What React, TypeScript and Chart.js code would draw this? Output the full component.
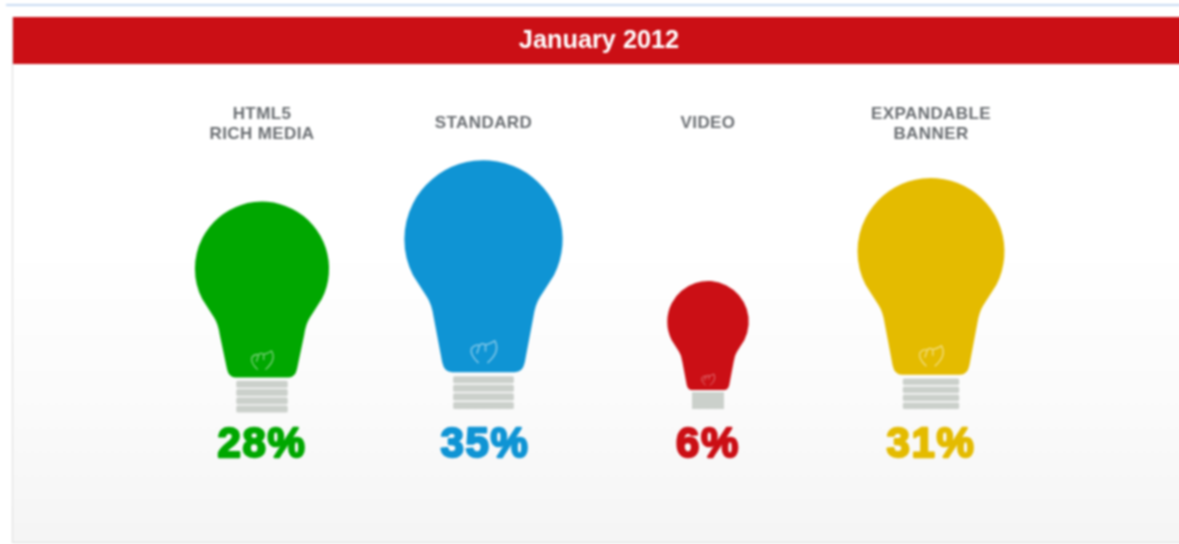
import React, { useEffect, useRef } from "react";
import { Chart, BarController, BarElement, CategoryScale, LinearScale, Title } from "chart.js";

const categories = ["HTML5 RICH MEDIA", "STANDARD", "VIDEO", "EXPANDABLE BANNER"];
const categoryLines = [["HTML5", "RICH MEDIA"], ["STANDARD"], ["VIDEO"], ["EXPANDABLE", "BANNER"]];
const shareValues = [28, 35, 6, 31];
const bulbColors = ["#00a700", "#0f94d4", "#cb0f15", "#e4bb00"];
const titleText = "January 2012";

// drawing-only adjustments of each bulb's artwork
const artScale = [0.96, 1, 1, 0.995];
const artShift = [3.5, 0, 0, 0];
const artNudge = [0.5, -1, 0.5, 0.5];
const baseTop = [0.85, 0.868, 0.868, 0.868];
const baseStripes = [4, 4, 1, 4];

class BulbElement extends BarElement {
  static id = "bulb";
  static defaults = BarElement.defaults;
  static defaultRoutes = BarElement.defaultRoutes;

  draw(ctx: CanvasRenderingContext2D) {
    const self = this as any;
    const chart = self.$context.chart;
    const i = self.$context.dataIndex;
    const bottom = chart.scales.y.bottom + artShift[i];
    const h = (chart.scales.y.bottom - self.y) * artScale[i];
    const cx = self.x + artNudge[i];
    const top = bottom - h;
    const X = (u: number) => cx + u * h;
    const Y = (v: number) => top + v * h;
    const bTop = baseTop[i];
    const gEnd = bTop - 0.016;

    ctx.save();
    // glass
    ctx.fillStyle = self.options.backgroundColor;
    ctx.beginPath();
    const r = 0.318 * h;
    const cy = Y(0.318);
    ctx.arc(cx, cy, r, (27 * Math.PI) / 180, (153 * Math.PI) / 180, true);
    ctx.lineTo(X(-0.226), Y(0.552));
    ctx.quadraticCurveTo(X(-0.208), Y(0.58), X(-0.2), Y(0.632));
    ctx.lineTo(X(-0.166), Y(gEnd - 0.04));
    ctx.quadraticCurveTo(X(-0.158), Y(gEnd), X(-0.125), Y(gEnd));
    ctx.lineTo(X(0.125), Y(gEnd));
    ctx.quadraticCurveTo(X(0.158), Y(gEnd), X(0.166), Y(gEnd - 0.04));
    ctx.lineTo(X(0.2), Y(0.632));
    ctx.quadraticCurveTo(X(0.208), Y(0.58), X(0.226), Y(0.552));
    ctx.closePath();
    ctx.fill();

    // screw base
    ctx.fillStyle = "#cbd0cb";
    const n = baseStripes[i];
    const bBot = 1;
    if (n === 1) {
      ctx.fillRect(X(-0.125), Y(bTop), 0.25 * h, (bBot - bTop) * h);
    } else {
      const gap = 0.006;
      const sh = (bBot - bTop - gap * (n - 1)) / n;
      for (let k = 0; k < n; k++) {
        const y0 = bTop + k * (sh + gap);
        ctx.beginPath();
        ctx.roundRect(X(-0.122), Y(y0), 0.244 * h, sh * h, 1.5);
        ctx.fill();
      }
    }

    // filament
    const fx = (p: number) => cx + (p / 750) * h;
    const fy = (p: number) => Y(gEnd - 0.08) + (p / 750) * h;
    ctx.strokeStyle = "rgba(255,255,255,0.5)";
    ctx.lineWidth = Math.max(0.8, h * 0.006);
    ctx.beginPath();
    ctx.moveTo(fx(-15), fy(32));
    ctx.quadraticCurveTo(fx(-42), fy(8), fx(-36), fy(-12));
    ctx.quadraticCurveTo(fx(-24), fy(-26), fx(-12), fy(-20));
    ctx.quadraticCurveTo(fx(-6), fy(-30), fx(6), fy(-22));
    ctx.quadraticCurveTo(fx(22), fy(-26), fx(34), fy(-34));
    ctx.quadraticCurveTo(fx(52), fy(-2), fx(12), fy(32));
    ctx.moveTo(fx(-12), fy(-20));
    ctx.lineTo(fx(-20), fy(4));
    ctx.moveTo(fx(6), fy(-22));
    ctx.lineTo(fx(6), fy(-2));
    ctx.stroke();
    ctx.restore();
  }
}

class BulbController extends BarController {
  static id = "bulb";
  static defaults = { ...BarController.defaults, dataElementType: "bulb" };
  static overrides = BarController.overrides;
}

Chart.register(BulbController, BulbElement, CategoryScale, LinearScale, Title);

const backdrop = {
  id: "backdrop",
  afterLayout(chart: any) {
    chart.titleBlock.left += 3;
    chart.titleBlock.right += 3;
  },
  beforeDraw(chart: any) {
    const { ctx, width, height } = chart;
    ctx.save();
    ctx.fillStyle = "#ffffff";
    ctx.fillRect(0, 0, width, height);
    // thin rule on top of the page
    ctx.fillStyle = "#c6daf2";
    ctx.fillRect(6, 4, width - 6, 2);
    // panel
    const g = ctx.createLinearGradient(0, 64, 0, 542);
    g.addColorStop(0, "#ffffff");
    g.addColorStop(0.4, "#ffffff");
    g.addColorStop(0.7, "#fbfbfb");
    g.addColorStop(1, "#f5f5f5");
    ctx.fillStyle = g;
    ctx.fillRect(13, 17, width - 13, 525);
    ctx.fillStyle = "#dcdcdc";
    ctx.fillRect(12, 17, 1, 526);
    ctx.fillRect(12, 542, width - 12, 1);
    ctx.fillStyle = "#cb0f15";
    ctx.fillRect(13, 17, width - 13, 47);
    ctx.restore();
  },
};

const labelsPlugin = {
  id: "bulbLabels",
  afterDatasetsDraw(chart: any) {
    const { ctx } = chart;
    const xs = chart.scales.x;
    ctx.save();
    ctx.textAlign = "center";
    ctx.textBaseline = "middle";
    categoryLines.forEach((lines, i) => {
      const x = xs.getPixelForTick(i);
      ctx.fillStyle = "#6a6e72";
      ctx.font = 'bold 17px "Liberation Sans"';
      (ctx as any).letterSpacing = "0.4px";
      lines.forEach((line, k) => {
        const y = lines.length === 1 ? 123.5 : 114 + k * 20.5;
        ctx.fillText(line, x + artNudge[i], y);
      });
      ctx.fillStyle = bulbColors[i];
      ctx.strokeStyle = bulbColors[i];
      ctx.lineWidth = 2.3;
      ctx.lineJoin = "round";
      ctx.font = 'bold 42px "Liberation Sans"';
      (ctx as any).letterSpacing = "1.6px";
      ctx.fillText(shareValues[i] + "%", x + 0.5, 445);
      ctx.strokeText(shareValues[i] + "%", x + 0.5, 445);
      (ctx as any).letterSpacing = "0px";
    });
    ctx.restore();
  },
};

export default function App() {
  const ref = useRef<HTMLCanvasElement>(null);
  useEffect(() => {
    const chart = new Chart(ref.current!, {
      type: "bulb" as any,
      data: {
        labels: categories,
        datasets: [{ label: "Share", data: shareValues, backgroundColor: bulbColors, clip: false } as any],
      },
      options: {
        animation: false,
        responsive: false,
        layout: { padding: { left: 150, right: 148, top: 0, bottom: 135 } },
        scales: {
          x: { type: "category", display: false },
          y: { type: "linear", display: false, min: -24.75, max: 40 },
        },
        plugins: {
          legend: { display: false },
          tooltip: { enabled: false },
          title: {
            display: true,
            text: titleText,
            color: "#ffffff",
            font: { family: '"Liberation Sans"', size: 25.3, weight: "bold", lineHeight: 1.2 },
            padding: { top: 26, bottom: 83 },
          },
        },
      } as any,
      plugins: [backdrop, labelsPlugin],
    });
    return () => chart.destroy();
  }, []);
  return (
    <div style={{ position: "fixed", left: 0, top: 0, width: 1179, height: 544, overflow: "hidden" }}>
      <canvas ref={ref} width={1190} height={544} style={{ display: "block", filter: "blur(0.9px)" }} />
    </div>
  );
}
